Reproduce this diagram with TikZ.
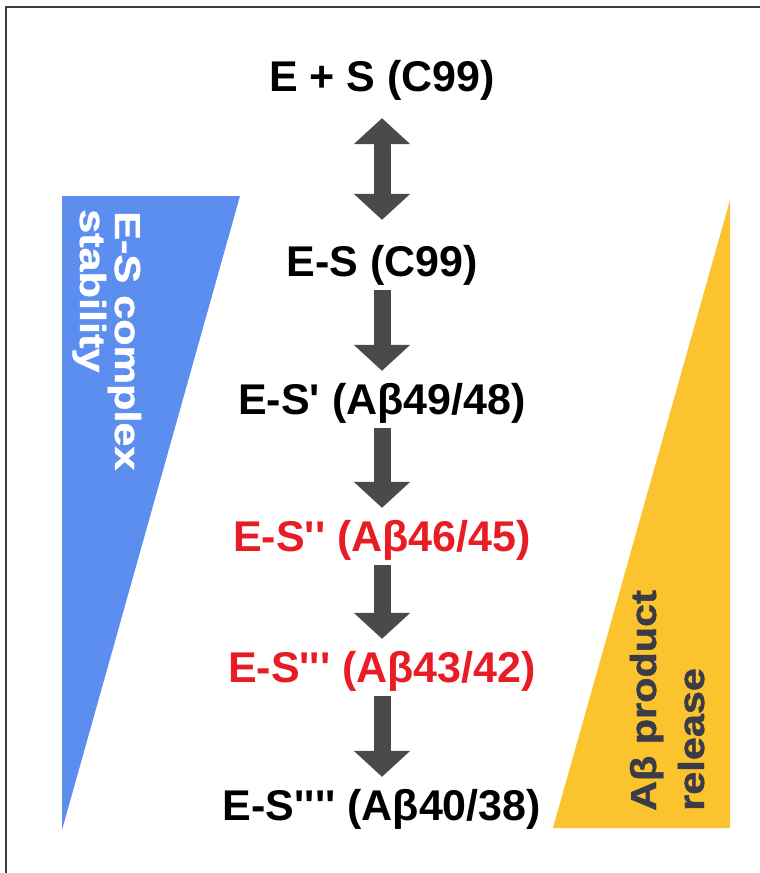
\documentclass[tikz,border=0pt]{standalone}
\usepackage{fontspec}
\setmainfont{Liberation Sans}[Ligatures=TeXOff]
\newfontfamily\wedgefont{Liberation Sans}[Ligatures=TeXOff, BoldFeatures={FakeBold=1.2}]
\usetikzlibrary{arrows.meta}
\definecolor{stabblue}{RGB}{92,142,240}
\definecolor{relyellow}{RGB}{251,196,46}
\definecolor{arrowgrey}{RGB}{74,74,74}
\definecolor{hotred}{RGB}{232,28,36}
\definecolor{labelgrey}{RGB}{60,60,72}
\definecolor{framegrey}{RGB}{60,60,60}
\begin{document}
\begin{tikzpicture}[x=1pt,y=-1pt,
  state/.style={font=\fontsize{43}{50}\selectfont\bfseries, inner sep=0pt,
    text height=31pt, text depth=9pt, anchor=base},
  flowtip/.style={-{Triangle[width=55pt,length=26pt]}},
  blockarrow/.style={line width=17pt, draw=arrowgrey, flowtip,
    shorten <=5pt, shorten >=12pt},
  dblarrow/.style={line width=17pt, draw=arrowgrey,
    {Triangle[width=55pt,length=26pt]}-{Triangle[width=55pt,length=26pt]},
    shorten <=18pt, shorten >=25pt},
  sidelabel/.style={font=\wedgefont\fontsize{36}{40}\selectfont\bfseries,
    inner sep=0pt, anchor=base west}]
\useasboundingbox (0,0) rectangle (760,873);
\fill[white] (0,0) rectangle (760,873);
% frame
\draw[framegrey, line width=2pt] (6,873) -- (6,7) -- (760,7);

% side wedges
\fill[stabblue] (62,196) -- (240,196) -- (62,830) -- cycle;
\fill[relyellow] (730,200) -- (730,828) -- (553,828) -- cycle;

\node[sidelabel, white, rotate=-90] (stab1) at (115,211) {\scalebox{1.2}[1]{E-S complex}};
\node[sidelabel, white, rotate=-90] (stab2) at (80,209) {\scalebox{1.2}[1]{stability}};
\node[sidelabel, labelgrey, rotate=90] (rel1) at (656,811) {\scalebox{1.15}[1]{Aβ product}};
\node[sidelabel, labelgrey, rotate=90] (rel2) at (704,811) {\scalebox{1.15}[1]{release}};

% reaction states
\node[state] (s0) at (382,91) {E + S (C99)};
\node[state] (s1) at (382,276) {E-S (C99)};
\node[state] (s2) at (382,414) {E-S' (Aβ49/48)};
\node[state, hotred] (s3) at (382,551) {E-S'' (Aβ46/45)};
\node[state, hotred] (s4) at (382,682) {E-S''' (Aβ43/42)};
\node[state] (s5) at (382,820) {E-S'''' (Aβ40/38)};

% transitions
\draw[dblarrow] (s0) -- (s1);
\draw[blockarrow] (s1) -- (s2);
\draw[blockarrow] (s2) -- (s3);
\draw[blockarrow] (s3) -- (s4);
\draw[blockarrow] (s4) -- (s5);
\end{tikzpicture}
\end{document}
